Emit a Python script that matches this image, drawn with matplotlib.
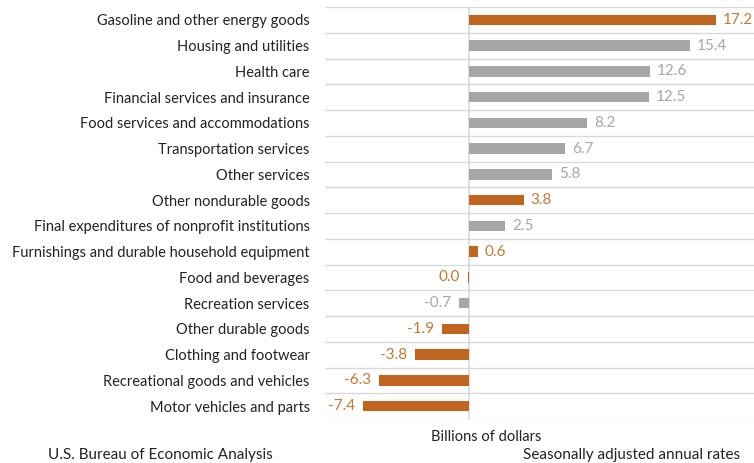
import matplotlib
matplotlib.use("Agg")
import matplotlib.pyplot as plt
from matplotlib.transforms import offset_copy

categories = [
    "Gasoline and other energy goods",
    "Housing and utilities",
    "Health care",
    "Financial services and insurance",
    "Food services and accommodations",
    "Transportation services",
    "Other services",
    "Other nondurable goods",
    "Final expenditures of nonprofit institutions",
    "Furnishings and durable household equipment",
    "Food and beverages",
    "Recreation services",
    "Other durable goods",
    "Clothing and footwear",
    "Recreational goods and vehicles",
    "Motor vehicles and parts",
]
values = [17.2, 15.4, 12.6, 12.5, 8.2, 6.7, 5.8, 3.8, 2.5, 0.6, 0.0, -0.7, -1.9, -3.8, -6.3, -7.4]
is_goods = [True, False, False, False, False, False, False, True, False, True, True, False, True, True, True, True]
value_labels = ["17.2", "15.4", "12.6", "12.5", "8.2", "6.7", "5.8", "3.8", "2.5", "0.6", "0.0", "-0.7", "-1.9", "-3.8", "-6.3", "-7.4"]
label_left = [False] * 10 + [True] * 6

ORANGE = "#C0651F"
ORANGE_TXT = "#C4783A"
GRAY = "#A6A6A6"
GRAY_TXT = "#A6A6A6"
FONT = "Lato"

plt.rcParams["font.family"] = [FONT, "DejaVu Sans"]

fig = plt.figure(figsize=(7.54, 4.63), dpi=100)
ax = fig.add_axes([325 / 754, 44 / 463, 429 / 754, 412 / 463])

y = list(range(len(categories)))
colors = [ORANGE if g else GRAY for g in is_goods]
ax.barh(y, values, height=0.40, color=colors, zorder=3)
# tiny mark for zero-valued bar
for yi, v, c in zip(y, values, colors):
    if v == 0:
        ax.barh(yi, -0.08, height=0.40, color=c, zorder=3)

ax.set_xlim(-10.05, 19.85)
ax.set_ylim(len(categories) - 0.5, -0.5)

for i in range(len(categories) + 1):
    ax.axhline(i - 0.5, color="#D9D9D9", lw=1.0, zorder=1)
ax.axvline(0, color="#D9D9D9", lw=1.2, zorder=2)

for s in ax.spines.values():
    s.set_visible(False)
ax.set_xticks([])
ax.set_yticks(y)
ax.set_yticklabels(categories, fontsize=10.5, color="#222222")
ax.tick_params(axis="y", length=0, pad=11)

for yi, v, lab, left, g in zip(y, values, value_labels, label_left, is_goods):
    col = ORANGE_TXT if g else GRAY_TXT
    if left:
        tr = offset_copy(ax.transData, fig=fig, x=-8, y=0, units="dots")
        ax.text(v if v < 0 else -0.1, yi, lab, ha="right", va="center", fontsize=11,
                color=col, transform=tr)
    else:
        tr = offset_copy(ax.transData, fig=fig, x=7, y=0, units="dots")
        ax.text(v, yi, lab, ha="left", va="center", fontsize=11, color=col, transform=tr)

fig.text(486 / 754, 1 - 437 / 463, "Billions of dollars", ha="center", va="center",
         fontsize=10.5, color="#222222")
fig.text(160 / 754, 1 - 455 / 463, "U.S. Bureau of Economic Analysis", ha="center",
         va="center", fontsize=11, color="#222222")
fig.text(632 / 754, 1 - 455 / 463, "Seasonally adjusted annual rates", ha="center",
         va="center", fontsize=11, color="#222222")

fig.savefig("out.png", dpi=100, facecolor="white")
